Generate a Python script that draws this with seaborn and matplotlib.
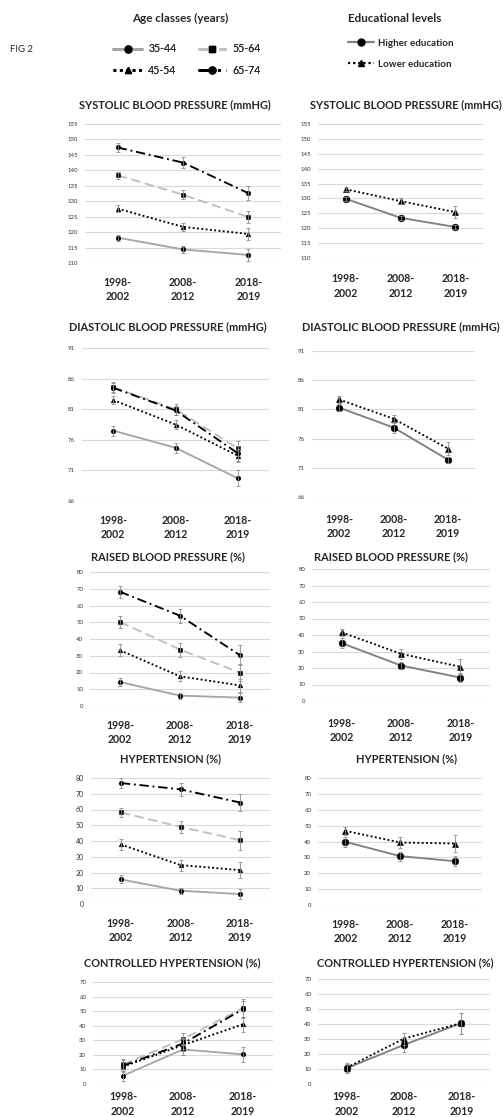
import numpy as np
import pandas as pd
import matplotlib
matplotlib.use("Agg")
import matplotlib.pyplot as plt
from matplotlib.lines import Line2D
import seaborn as sns

periods = ["1998-\n2002", "2008-\n2012", "2018-\n2019"]
age_groups = ["35-44", "45-54", "55-64", "65-74"]
edu_groups = ["Higher education", "Lower education"]

# one row per group, one column per period
sbp_age = [[118.2, 114.4, 112.6], [127.6, 121.7, 119.4], [138.4, 132.1, 124.9], [147.4, 142.5, 132.6]]
sbp_age_err = [[1.0, 1.1, 1.8], [1.2, 1.3, 2.0], [1.2, 1.4, 2.0], [1.5, 1.8, 2.2]]
sbp_edu = [[129.9, 123.5, 120.4], [133.1, 129.1, 125.4]]
sbp_edu_err = [[0.6, 0.6, 0.7], [0.7, 1.0, 2.0]]

dbp_age = [[77.5, 74.7, 69.7], [82.5, 78.5, 73.4], [84.6, 81.0, 74.6], [84.5, 80.8, 73.8]]
dbp_age_err = [[0.8, 0.8, 1.3], [0.7, 0.8, 1.1], [0.8, 0.9, 1.2], [0.8, 0.8, 1.2]]
dbp_edu = [[81.3, 77.9, 72.4], [82.7, 79.4, 74.3]]
dbp_edu_err = [[0.6, 1.0, 0.5], [0.6, 0.7, 1.1]]

rbp_age = [[14.3, 6.2, 5.0], [33.3, 17.7, 12.3], [50.1, 33.7, 19.9], [68.2, 53.9, 30.3]]
rbp_age_err = [[2.5, 1.8, 2.8], [3.5, 3.0, 4.0], [3.8, 4.2, 5.0], [3.5, 4.2, 6.0]]
rbp_edu = [[35.1, 21.5, 14.2], [41.6, 28.6, 20.7]]
rbp_edu_err = [[3.0, 2.2, 2.8], [2.2, 3.0, 4.5]]

hyp_age = [[15.6, 8.4, 6.3], [37.8, 24.7, 21.5], [58.1, 49.0, 40.5], [76.8, 72.8, 64.4]]
hyp_age_err = [[2.5, 2.0, 3.0], [3.5, 3.5, 5.0], [3.0, 4.0, 6.0], [3.0, 4.0, 5.5]]
hyp_edu = [[39.8, 30.8, 27.6], [46.7, 39.4, 38.7]]
hyp_edu_err = [[3.0, 2.8, 3.0], [2.5, 3.5, 5.5]]

ctl_age = [[5.7, 23.7, 20.3], [11.9, 26.7, 41.0], [13.5, 30.8, 52.2], [12.5, 27.8, 51.3]]
ctl_age_err = [[3.5, 4.0, 5.0], [3.0, 4.0, 5.0], [3.5, 4.0, 6.0], [4.0, 4.0, 6.0]]
ctl_edu = [[10.5, 26.1, 40.6], [10.9, 30.3, 40.6]]
ctl_edu_err = [[3.0, 5.0, 7.0], [3.0, 4.0, 7.0]]

# styles
age_colors = {"35-44": "#a6a6a6", "45-54": "black", "55-64": "#bfbfbf", "65-74": "black"}
age_dashes = {"35-44": "", "45-54": (1, 1.3), "55-64": (5, 2.5), "65-74": (5, 2, 1, 2)}
age_markers = {"35-44": "o", "45-54": "^", "55-64": "s", "65-74": "o"}
edu_colors = {"Higher education": "#808080", "Lower education": "black"}
edu_dashes = {"Higher education": "", "Lower education": (1, 1.3)}
edu_markers = {"Higher education": "o", "Lower education": "^"}

sns.set_style("white")
plt.rcParams["font.family"] = ["Lato", "DejaVu Sans"]

W, H = 504, 1117
fig = plt.figure(figsize=(W / 100, H / 100), dpi=100)


def box(x0, x1, y0, y1):
    return [x0 / W, 1 - y1 / H, (x1 - x0) / W, (y1 - y0) / H]


def draw_panel(rect, title, tpos, mean, err, kind, ylo, yhi, step, tick_fs, xpad=10):
    ax = fig.add_axes(box(*rect))
    if kind == "age":
        groups, colors, dashes, markers, ms = age_groups, age_colors, age_dashes, age_markers, 3.3
    else:
        groups, colors, dashes, markers, ms = edu_groups, edu_colors, edu_dashes, edu_markers, 4.8
    df = pd.DataFrame({
        "period": np.tile(np.arange(3), len(groups)),
        "group": np.repeat(groups, 3),
        "value": np.ravel(mean),
    })
    sns.lineplot(data=df, x="period", y="value", hue="group", style="group",
                 hue_order=groups, style_order=groups, palette=colors,
                 dashes=dashes, markers=markers, ax=ax, legend=False,
                 linewidth=1.35, markersize=ms, markerfacecolor="black",
                 markeredgecolor="black", markeredgewidth=0.4, errorbar=None)
    for i in range(len(groups)):
        ax.errorbar(np.arange(3), mean[i], yerr=err[i], fmt="none", ecolor="#8c8c8c",
                    elinewidth=0.6, capsize=1.6, capthick=0.6, zorder=4)
    ax.set_xlim(-0.5, 2.5)
    ax.set_ylim(ylo, yhi)
    ax.set_yticks(np.arange(ylo, yhi + 1, step))
    ax.set_xticks(range(3))
    ax.set_xticklabels(periods, fontweight="bold", fontsize=7.6, linespacing=1.4)
    ax.yaxis.grid(True, color="#d9d9d9", linewidth=0.8)
    ax.set_axisbelow(True)
    for s in ax.spines.values():
        s.set_visible(False)
    ax.tick_params(axis="y", length=0, labelsize=tick_fs, labelcolor="#333333", pad=5)
    ax.tick_params(axis="x", length=0, pad=xpad)
    ax.set_xlabel("")
    ax.set_ylabel("")
    fig.text(tpos[0] / W, 1 - tpos[1] / H, title, ha="center", va="center",
             fontsize=7.9, fontweight="bold")
    return ax


draw_panel((85, 281, 124, 263), "SYSTOLIC BLOOD PRESSURE (mmHG)", (175, 105),
           sbp_age, sbp_age_err, "age", 110, 155, 5, 4.3)
draw_panel((318, 483, 124, 258), "SYSTOLIC BLOOD PRESSURE (mmHG)", (406, 105),
           sbp_edu, sbp_edu_err, "edu", 110, 155, 5, 4.3, xpad=11)
draw_panel((82, 269, 348, 501), "DIASTOLIC BLOOD PRESSURE (mmHG)", (168, 327),
           dbp_age, dbp_age_err, "age", 66, 91, 5, 4.3)
draw_panel((312, 475, 351, 497), "DIASTOLIC BLOOD PRESSURE (mmHG)", (401, 327),
           dbp_edu, dbp_edu_err, "edu", 66, 91, 5, 4.3, xpad=12)
draw_panel((90, 270, 572, 706), "RAISED BLOOD PRESSURE (%)", (168, 557),
           rbp_age, rbp_age_err, "age", 0, 80, 10, 4.3)
draw_panel((312, 490, 569, 701), "RAISED BLOOD PRESSURE (%)", (391, 557),
           rbp_edu, rbp_edu_err, "edu", 0, 80, 10, 4.3, xpad=12)
draw_panel((91, 270, 778, 904), "HYPERTENSION (%)", (170, 759),
           hyp_age, hyp_age_err, "age", 0, 80, 10, 5.0)
draw_panel((318, 482, 778, 905), "HYPERTENSION (%)", (406, 759),
           hyp_edu, hyp_edu_err, "edu", 0, 80, 10, 4.3)
draw_panel((93, 273, 982, 1084), "CONTROLLED HYPERTENSION (%)", (172, 963),
           ctl_age, ctl_age_err, "age", 0, 70, 10, 4.3, xpad=5)
draw_panel((318, 490, 979, 1084), "CONTROLLED HYPERTENSION (%)", (405, 963),
           ctl_edu, ctl_edu_err, "edu", 0, 70, 10, 4.3, xpad=5)

# legends at the top
fig.text(10 / W, 1 - 50 / H, "FIG 2", fontsize=6.8, va="center")
fig.text(180 / W, 1 - 18 / H, "Age classes (years)", fontsize=8.4, fontweight="bold",
         ha="center", va="center")
fig.text(395 / W, 1 - 18 / H, "Educational levels", fontsize=8.4, fontweight="bold",
         ha="center", va="center")

age_handles = [Line2D([], [], color=age_colors[g], lw=2.0,
                      dashes=age_dashes[g] if age_dashes[g] else (None, None),
                      marker=age_markers[g], markersize=5, mfc="black", mec="black")
               for g in age_groups]
for h, g in zip(age_handles, age_groups):
    if not age_dashes[g]:
        h.set_linestyle("-")
leg1 = fig.legend(handles=age_handles, labels=age_groups, ncol=2, loc="upper left",
                  bbox_to_anchor=(108 / W, 1 - 38 / H), frameon=False, fontsize=7.6,
                  handlelength=2.7, handletextpad=0.6, columnspacing=2.0,
                  labelspacing=1.0, borderpad=0)

edu_handles = [Line2D([], [], color=edu_colors[g], lw=1.6,
                      linestyle="-" if not edu_dashes[g] else (0, edu_dashes[g]),
                      marker=edu_markers[g], markersize=5, mfc="black", mec="black")
               for g in edu_groups]
fig.legend(handles=edu_handles, labels=edu_groups, loc="upper left",
           bbox_to_anchor=(343 / W, 1 - 34 / H), frameon=False,
           handlelength=2.7, handletextpad=0.4, labelspacing=1.2, borderpad=0,
           prop={"weight": "bold", "size": 7.0})
fig.add_artist(leg1)

fig.savefig("out.png", dpi=100)
